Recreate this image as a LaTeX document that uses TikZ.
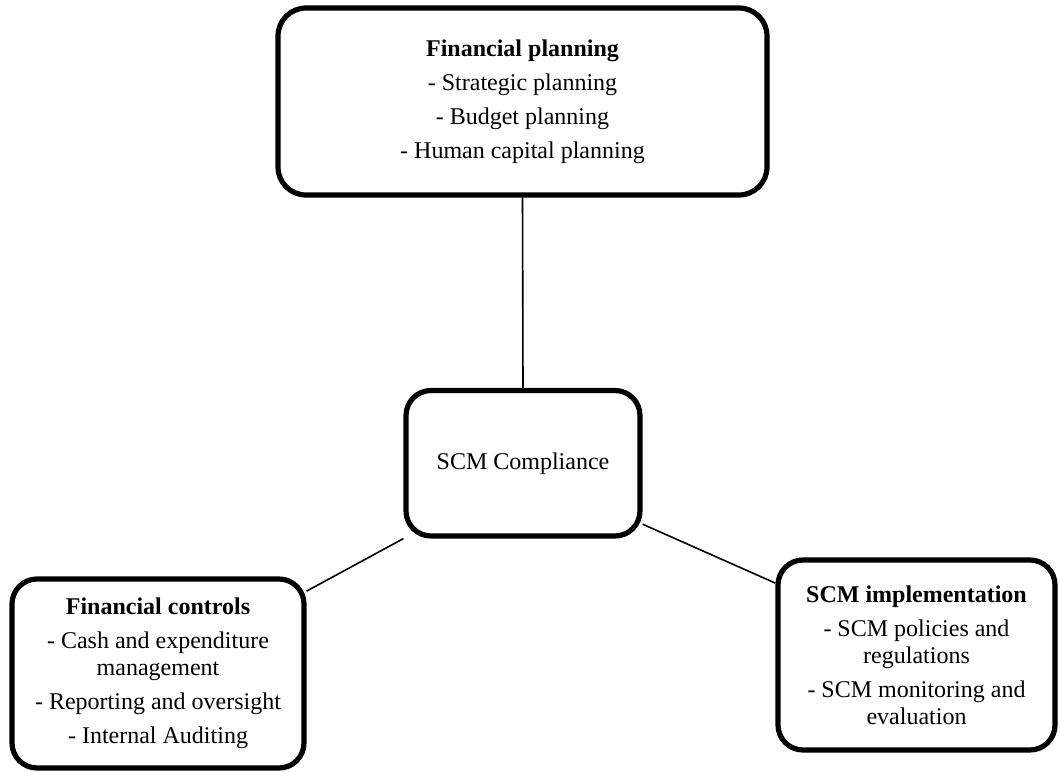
\documentclass[tikz,border=0pt]{standalone}
\usepackage{fontspec}
\setmainfont{Liberation Serif}
\begin{document}
\begin{tikzpicture}[x=0.5pt,y=-0.5pt,
  box/.style={draw=black,line width=2.6pt,rounded corners=12.5pt,fill=white,
    align=center,inner sep=0pt,font=\fontsize{12}{13.5}\selectfont},
  link/.style={draw=black,line width=0.8pt}]
\useasboundingbox[fill=white] (0,0) rectangle (1060,771);
\node[box,rounded corners=14pt,minimum width=244.5pt,minimum height=93.5pt] (top) at (522.5,101.5)
  {\textbf{Financial planning}\\[3.5pt]- Strategic planning\\[3.5pt]- Budget planning\\[3.5pt]- Human capital planning};
\node[box,minimum width=117pt,minimum height=72.75pt] (c) at (523,463.25) {SCM Compliance};
\node[box,minimum width=146pt,minimum height=94.5pt] (bl) at (158,673.5)
  {\textbf{Financial controls}\\[3.5pt]- Cash and expenditure\\management\\[3.5pt]- Reporting and oversight\\[3.5pt]- Internal Auditing};
\node[box,minimum width=138.5pt,minimum height=95pt] (br) at (916.5,655)
  {\textbf{SCM implementation}\\[3.5pt]- SCM policies and\\regulations\\[3.5pt]- SCM monitoring and\\evaluation};
\draw[link] (top.south) -- (c.north);
\draw[link] (c.south west) -- (bl.29);
\draw[link] (c.-27) -- (br.153);
\end{tikzpicture}
\end{document}
